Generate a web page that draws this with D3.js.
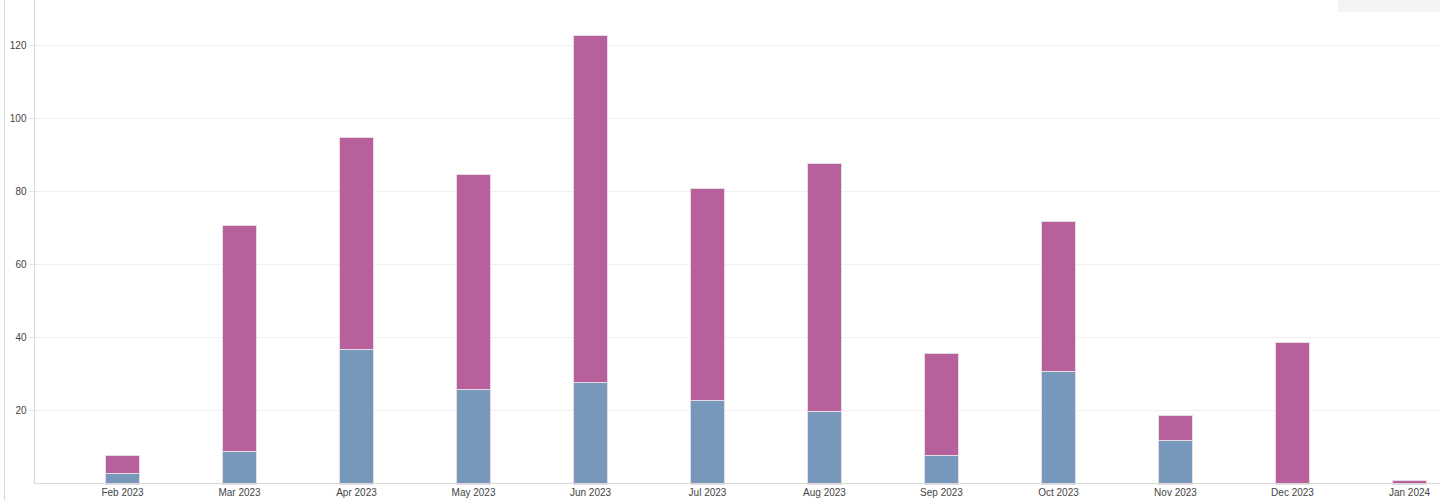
<!DOCTYPE html>
<html>
<head>
<meta charset="utf-8">
<script src="https://cdn.jsdelivr.net/npm/d3@7"></script>
<style>
  html, body { margin: 0; padding: 0; background: #fff; }
  svg { display: block; font-family: Arial, "Liberation Sans", sans-serif; }
</style>
</head>
<body>
<svg id="chart" width="1440" height="500"></svg>
<script>
const categories = ["Feb 2023","Mar 2023","Apr 2023","May 2023","Jun 2023","Jul 2023","Aug 2023","Sep 2023","Oct 2023","Nov 2023","Dec 2023","Jan 2024"];
const seriesBlue = [3, 9, 37, 26, 28, 23, 20, 8, 31, 12, 0, 0];
const seriesPink = [5, 62, 58, 59, 95, 58, 68, 28, 41, 7, 39, 1];
const yTicks = [20, 40, 60, 80, 100, 120];
const yMax = 132.3;

const W = 1440, H = 500;
const plot = { left: 34, right: 1440, top: 0, bottom: 483 };
const svg = d3.select("#chart");

// outer left border
svg.append("line").attr("x1", 4.5).attr("x2", 4.5).attr("y1", 0).attr("y2", H)
  .attr("stroke", "#cfd6de").attr("stroke-width", 1);

// top-right grey box
svg.append("rect").attr("x", 1338).attr("y", 0).attr("width", 102).attr("height", 12)
  .attr("fill", "#f3f4f6");

const x = d3.scalePoint().domain(categories).range([plot.left + 88, plot.right - 31]);
const y = d3.scaleLinear().domain([0, yMax]).range([plot.bottom, plot.top]);
const barW = 34;

// gridlines
svg.append("g").selectAll("line").data(yTicks).join("line")
  .attr("x1", plot.left).attr("x2", plot.right)
  .attr("y1", d => Math.round(y(d)) + 0.5).attr("y2", d => Math.round(y(d)) + 0.5)
  .attr("stroke", "#f0f0f0");

// stacked bars
const rows = categories.map((c, i) => ({ cat: c, blue: seriesBlue[i], pink: seriesPink[i] }));
const stack = d3.stack().keys(["blue", "pink"])(rows);
const colors = { blue: "#7798ba", pink: "#b7609b" };

svg.append("g").selectAll("g").data(stack).join("g")
  .attr("fill", d => colors[d.key])
  .selectAll("rect").data(d => d.filter(p => p[1] - p[0] > 0)).join("rect")
  .attr("x", d => x(d.data.cat) - barW / 2 + 0.5)
  .attr("y", d => Math.round(y(d[1])) + 1.5)
  .attr("width", barW)
  .attr("height", d => Math.max(0, Math.round(y(d[0])) - Math.round(y(d[1]))))
  .attr("stroke", "#e6dbe4").attr("stroke-width", 1);

// y axis
const yAxis = d3.axisLeft(y).tickValues(yTicks).tickSize(5).tickPadding(3);
const gy = svg.append("g").attr("transform", `translate(${plot.left + 0.5},0)`).call(yAxis);
gy.select(".domain").attr("stroke", "#d9d9d9").attr("d", `M0,${plot.top}V${plot.bottom}`);
gy.selectAll(".tick line").attr("stroke", "#e0e0e0");
gy.selectAll(".tick text").attr("fill", "#444").attr("font-size", 10);

// x axis
const xAxis = d3.axisBottom(x).tickSize(0).tickPadding(5);
const gx = svg.append("g").attr("transform", `translate(0,${plot.bottom + 0.5})`).call(xAxis);
gx.select(".domain").attr("stroke", "#d9d9d9").attr("d", `M${plot.left},0H${plot.right}`);
gx.selectAll(".tick text").attr("fill", "#444").attr("font-size", 10);
</script>
</body>
</html>
